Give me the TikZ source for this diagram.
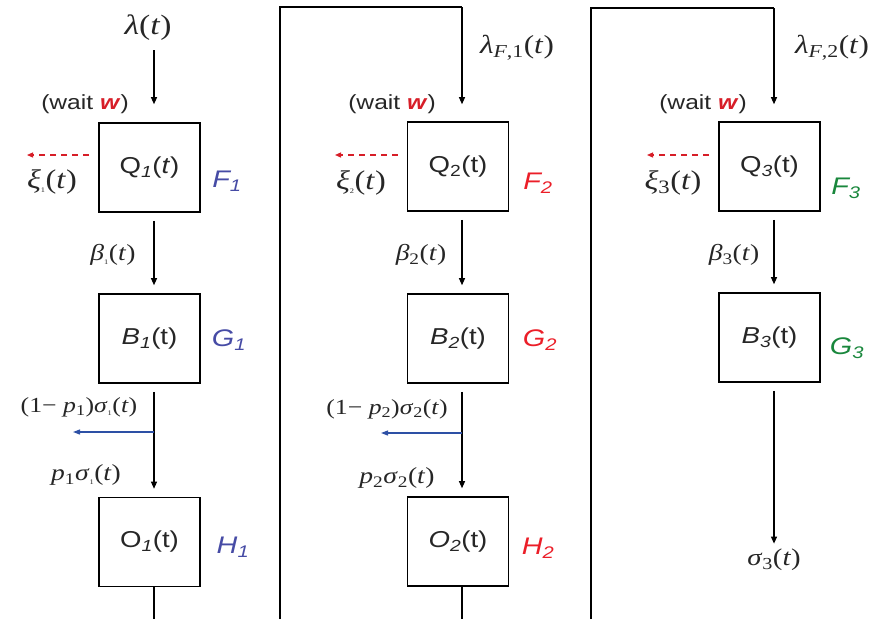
\documentclass[tikz,border=0pt]{standalone}
\usepackage{fontspec}
\setmainfont{Liberation Sans}[FakeStretch=1.2]
\newfontfamily\tms{Liberation Serif}[FakeStretch=1.2]
\usetikzlibrary{arrows.meta,calc}
\definecolor{wred}{RGB}{215,30,40}
\definecolor{fred}{RGB}{235,30,40}
\definecolor{fblue}{RGB}{70,75,165}
\definecolor{fgreen}{RGB}{25,135,60}
\definecolor{ablue}{RGB}{45,80,165}
\tikzset{
  box/.style={draw,line width=1.6pt,minimum width=101pt,minimum height=89pt,inner sep=0pt,font=\fontsize{23}{26}\selectfont,text=black!85},
  arr/.style={-{Triangle[length=7pt,width=6pt]},line width=1.1pt},
  outer/.style={line width=2pt},
  dsh/.style={-{Triangle[length=6pt,width=5pt]},wred,line width=1.2pt,dash pattern=on 6pt off 5pt},
  bl/.style={-{Triangle[length=7pt,width=5pt]},ablue,line width=1.2pt},
  wt/.style={font=\fontsize{20.5}{22}\selectfont,text=black!85},
  fl/.style={font=\fontsize{24}{26}\selectfont\itshape},
  ml/.style={font=\tms\fontsize{23}{24}\selectfont,text=black!85},
  mlb/.style={font=\tms\fontsize{27}{28}\selectfont,text=black!85},
}
\newcommand{\waitw}{(wait \textcolor{wred}{\textbf{\textit{w}}})}
\newcommand{\vi}[1]{\textit{#1}}
\newcommand{\sbs}[1]{\textsubscript{#1}}
\newcommand{\ofT}{(\vi{t})}
\begin{document}
\begin{tikzpicture}[x=1pt,y=-1pt]
\useasboundingbox (0,0) rectangle (882,619);
% ---------- column 1 ----------
\node[box] (Q1) at (149.5,167.5) {Q\textsubscript{\textit{1}}(\textit{t})};
\node[box] (B1) at (149.5,338.5) {\textit{B\textsubscript{1}}(t)};
\node[box] (O1) at (149.5,542) {O\textsubscript{\textit{1}}(t)};
\node[mlb,font=\tms\fontsize{28}{30}\selectfont] (lam1) at (148,28) {\vi{λ}\ofT};
\coordinate (c1) at (154,0);
\node[wt] (w1) at (85,104) {\waitw};
\node[fl,text=fblue] (F1) at (227,181) {F\textsubscript{1}};
\node[fl,text=fblue] (G1) at (229,340) {G\textsubscript{1}};
\node[fl,text=fblue] (H1) at (233,547) {H\textsubscript{1}};
\node[mlb] (xi1) at (52,182) {\vi{ξ}\sbs{\scriptsize 1}\ofT};
\node[ml] (be1) at (113,255) {\vi{β}\sbs{\scriptsize 1}\ofT};
\node[ml,font=\tms\fontsize{21.5}{24}\selectfont] (ps1) at (79,407) {(1− \vi{p}\sbs{1})\vi{σ}\sbs{\scriptsize 1}\ofT};
\node[ml] (pp1) at (86,475) {\vi{p}\sbs{1}\vi{σ}\sbs{\scriptsize 1}\ofT};
\coordinate (x1) at (27,155);
\coordinate (y1) at (73,432);
\coordinate (e1) at (154,619);
\draw[arr,shorten <=6pt,shorten >=18pt] (lam1.south -| c1) -- (Q1.north -| c1);
\draw[arr,shorten <=8pt,shorten >=8pt] (Q1.south -| c1) -- (B1.north -| c1);
\draw[arr,shorten <=8pt,shorten >=8pt] (B1.south -| c1) -- (O1.north -| c1);
\draw[bl] (y1 -| c1) -- (y1);
\draw[dsh,shorten <=9pt] (Q1.west |- x1) -- (x1);
\draw[line width=1.4pt] (O1.south -| c1) -- (e1);
% ---------- column 2 ----------
\node[box] (Q2) at (458,166.5) {Q\textsubscript{2}(t)};
\node[box] (B2) at (458,338.5) {\textit{B\textsubscript{2}}(t)};
\node[box] (O2) at (458,541.5) {\textit{O\textsubscript{2}}(t)};
\coordinate (c2) at (462,7);
\coordinate (b2) at (280,619);
\node[mlb,font=\tms\fontsize{26}{28}\selectfont] (lam2) at (517,48) {\vi{λ}\sbs{\vi{F},1}\ofT};
\node[wt] (w2) at (392,104) {\waitw};
\node[fl,text=fred] (F2) at (538,183) {F\textsubscript{2}};
\node[fl,text=fred] (G2) at (540,340) {G\textsubscript{2}};
\node[fl,text=fred] (H2) at (538,548) {H\textsubscript{2}};
\node[mlb] (xi2) at (361,183) {\vi{ξ}\sbs{\scriptsize 2}\ofT};
\node[ml] (be2) at (421,255) {\vi{β}\sbs{2}\ofT};
\node[ml,font=\tms\fontsize{21.5}{24}\selectfont] (ps2) at (387,409) {(1− \vi{p}\sbs{2})\vi{σ}\sbs{2}\ofT};
\node[ml] (pp2) at (397,478) {\vi{p}\sbs{2}\vi{σ}\sbs{2}\ofT};
\coordinate (x2) at (335,155);
\coordinate (y2) at (381,433);
\coordinate (e2) at (462,619);
\draw[outer] (b2) |- (c2);
\draw[arr,shorten >=17pt] (c2) -- (Q2.north -| c2);
\draw[arr,shorten <=8pt,shorten >=8pt] (Q2.south -| c2) -- (B2.north -| c2);
\draw[arr,shorten <=8pt,shorten >=8pt] (B2.south -| c2) -- (O2.north -| c2);
\draw[bl] (y2 -| c2) -- (y2);
\draw[dsh,shorten <=9pt] (Q2.west |- x2) -- (x2);
\draw[line width=1.4pt] (O2.south -| c2) -- (e2);
% ---------- column 3 ----------
\node[box] (Q3) at (769.5,166.5) {Q\textsubscript{\textit{3}}(t)};
\node[box] (B3) at (769.5,337.5) {\textit{B\textsubscript{3}}(t)};
\coordinate (c3) at (774,8);
\coordinate (b3) at (591,619);
\node[mlb,font=\tms\fontsize{26}{28}\selectfont] (lam3) at (832,48) {\vi{λ}\sbs{\vi{F},2}\ofT};
\node[wt] (w3) at (703,104) {\waitw};
\node[fl,text=fgreen] (F3) at (846,188) {F\textsubscript{3}};
\node[fl,text=fgreen] (G3) at (847,348) {G\textsubscript{3}};
\node[mlb] (xi3) at (673,183) {\vi{ξ}\sbs{3}\ofT};
\node[ml] (be3) at (734,255) {\vi{β}\sbs{3}\ofT};
\node[ml,font=\tms\fontsize{24}{26}\selectfont] (s3) at (774,560) {\vi{σ}\sbs{3}\ofT};
\coordinate (x3) at (647,155);
\draw[outer] (b3) |- (c3);
\draw[arr,shorten >=17pt] (c3) -- (Q3.north -| c3);
\draw[arr,shorten <=8pt,shorten >=8pt] (Q3.south -| c3) -- (B3.north -| c3);
\draw[arr,shorten <=8pt,shorten >=2pt] (B3.south -| c3) -- (s3.north -| c3);
\draw[dsh,shorten <=9pt] (Q3.west |- x3) -- (x3);
\end{tikzpicture}
\end{document}
